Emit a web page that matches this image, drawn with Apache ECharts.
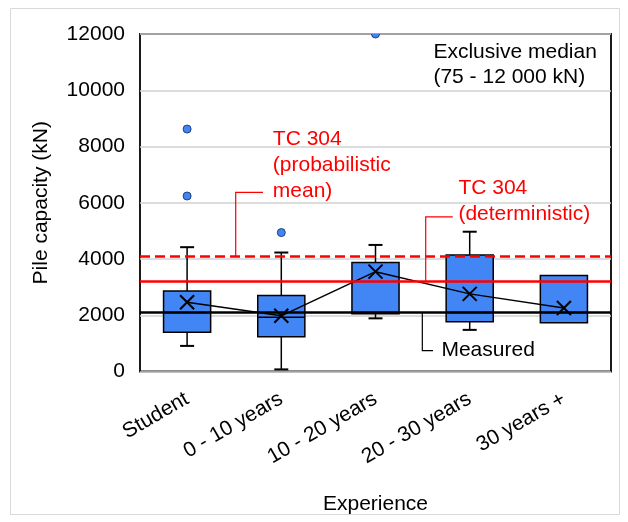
<!DOCTYPE html>
<html>
<head>
<meta charset="utf-8">
<script src="https://cdn.jsdelivr.net/npm/echarts@6/dist/echarts.min.js"></script>
<style>
  html, body { margin: 0; padding: 0; background: #fff; }
  #chart { width: 628px; height: 522px; }
</style>
</head>
<body>
<div id="chart"></div>
<script>
// Pile capacity estimates grouped by experience
const categories = ['Student', '0 - 10 years', '10 - 20 years', '20 - 30 years', '30 years +'];
const lowerWhisker  = [910, 75, 1890, 1480, 1735];
const lowerQuartile = [1400, 1240, 2050, 1770, 1735];
const medians       = [2100, 1930, 2100, 2100, 2100];
const upperQuartile = [2860, 2700, 3880, 4140, 3410];
const upperWhisker  = [4420, 4230, 4500, 4970, 3410];
const means         = [2460, 1980, 3550, 2760, 2260];
const outlierCategory = [0, 0, 1, 2];
const outlierValues   = [8620, 6240, 4940, 12000];
const yTicks = [0, 2000, 4000, 6000, 8000, 10000, 12000];

// Reference capacities (kN)
const tcProbabilisticMean = 4100;
const tcDeterministic = 3200;
const measuredMedian = 2100;

const FONT = '"Liberation Sans", Arial, sans-serif';
const BLUE = '#4285f4';

// Callout texts with leader lines, placed in axis units (category index, kN)
const callouts = [
  { text: ['TC 304', '(probabilistic', 'mean)'], color: '#ff0000', at: [0.91, 8270], lineHeight: 26,
    leader: [[0.516, tcProbabilisticMean], [0.516, 6370], [0.806, 6370]] },
  { text: ['TC 304', '(deterministic)'], color: '#ff0000', at: [2.88, 6510], lineHeight: 26,
    leader: [[2.533, tcDeterministic], [2.533, 5500], [2.82, 5500]] },
  { text: ['Measured'], color: '#000000', at: [2.70, 740], lineHeight: 24,
    leader: [[2.497, measuredMedian], [2.497, 740], [2.61, 740]] },
  { text: ['Exclusive median', '(75 - 12 000 kN)'], color: '#000000', at: [2.615, 11350], lineHeight: 24.5,
    leader: null }
];

const boxData = categories.map((c, i) => [i, lowerWhisker[i], lowerQuartile[i], medians[i], upperQuartile[i], upperWhisker[i]]);
const meanData = means.map((m, i) => [i, m]);
const outlierData = outlierValues.map((v, k) => [outlierCategory[k], v]);

function seg(x1, y1, x2, y2, w) {
  return { type: 'line', shape: { x1, y1, x2, y2 }, style: { stroke: '#000', lineWidth: w } };
}

function renderBox(params, api) {
  const i = api.value(0);
  const x = api.coord([i, 0])[0];
  const half = api.size([1, 0])[0] * 0.25;
  const cap = 7;
  const y = k => api.coord([i, api.value(k)])[1];
  const yLow = y(1), yQ1 = y(2), yMed = y(3), yQ3 = y(4), yUp = y(5);
  const children = [];
  if (yUp < yQ3 - 0.5) {
    children.push(seg(x, yUp, x, yQ3, 1.5), seg(x - cap, yUp, x + cap, yUp, 2));
  }
  if (yLow > yQ1 + 0.5) {
    children.push(seg(x, yQ1, x, yLow, 1.5), seg(x - cap, yLow, x + cap, yLow, 2));
  }
  children.push({
    type: 'rect',
    shape: { x: x - half, y: yQ3, width: 2 * half, height: yQ1 - yQ3 },
    style: { fill: BLUE, stroke: '#000', lineWidth: 1.5 }
  });
  children.push(seg(x - half, yMed, x + half, yMed, 1.5));
  return { type: 'group', children };
}

function renderCross(params, api) {
  const p = api.coord([api.value(0), api.value(1)]);
  const s = 7;
  return {
    type: 'group',
    children: [
      seg(p[0] - s, p[1] - s, p[0] + s, p[1] + s, 2),
      seg(p[0] - s, p[1] + s, p[0] + s, p[1] - s, 2)
    ]
  };
}

function renderOutlier(params, api) {
  const p = api.coord([api.value(0), api.value(1)]);
  return {
    type: 'circle',
    shape: { cx: p[0], cy: p[1], r: 4 },
    style: { fill: BLUE, stroke: '#1f3f80', lineWidth: 1 }
  };
}

function renderCallouts(params, api) {
  const band = api.size([1, 0])[0];
  const toPx = (c, v) => {
    const base = Math.floor(c);
    const pt = api.coord([base, v]);
    return [pt[0] + (c - base) * band, pt[1]];
  };
  const children = [];
  callouts.forEach(c => {
    if (c.leader) {
      children.push({
        type: 'polyline',
        shape: { points: c.leader.map(p => toPx(p[0], p[1])) },
        style: { stroke: c.color, lineWidth: 1.2, fill: null }
      });
    }
    const p = toPx(c.at[0], c.at[1]);
    children.push({
      type: 'text',
      x: p[0], y: p[1] - c.lineHeight / 2,
      style: {
        text: c.text.join('\n'),
        fill: c.color,
        fontSize: 21,
        fontFamily: FONT,
        lineHeight: c.lineHeight,
        align: 'left',
        verticalAlign: 'top'
      }
    });
  });
  return { type: 'group', children };
}

const chart = echarts.init(document.getElementById('chart'));
chart.setOption({
  animation: false,
  backgroundColor: '#fff',
  textStyle: { fontFamily: FONT },
  graphic: [{
    type: 'rect',
    shape: { x: 10.5, y: 8.5, width: 609, height: 506 },
    style: { fill: 'none', stroke: '#d9d9d9', lineWidth: 1 },
    silent: true, z: -10
  }],
  grid: {
    left: 140, right: 17, top: 34, bottom: 150.5,
    show: true, borderColor: '#1a1a1a', borderWidth: 2, backgroundColor: 'transparent'
  },
  xAxis: {
    type: 'category',
    data: categories,
    boundaryGap: true,
    axisLine: { show: false },
    axisTick: { show: false },
    axisLabel: { rotate: 30, interval: 0, fontSize: 21, color: '#000', margin: 26, fontFamily: FONT },
    name: 'Experience',
    nameLocation: 'middle',
    nameGap: 122,
    nameTextStyle: { fontSize: 21, color: '#000', fontFamily: FONT }
  },
  yAxis: {
    type: 'value',
    min: yTicks[0],
    max: yTicks[yTicks.length - 1],
    interval: yTicks[1] - yTicks[0],
    axisLine: { show: false },
    axisTick: { show: false },
    axisLabel: { fontSize: 21, color: '#000', margin: 15, fontFamily: FONT, formatter: v => String(v) },
    splitLine: { lineStyle: { color: '#d0d0d0', width: 1.5 } },
    name: 'Pile capacity (kN)',
    nameLocation: 'middle',
    nameGap: 88,
    nameTextStyle: { fontSize: 21, color: '#000', fontFamily: FONT }
  },
  series: [
    {
      type: 'custom',
      name: 'boxes',
      data: boxData,
      encode: { x: 0, y: [1, 2, 3, 4, 5] },
      renderItem: renderBox,
      z: 2
    },
    {
      type: 'line',
      name: 'reference',
      data: [],
      z: 3,
      markLine: {
        silent: true,
        symbol: ['none', 'none'],
        label: { show: false },
        data: [
          { yAxis: tcProbabilisticMean, lineStyle: { color: '#ff0000', width: 2.5, type: [10, 5] } },
          { yAxis: tcDeterministic, lineStyle: { color: '#ff0000', width: 2.5, type: 'solid' } },
          { yAxis: measuredMedian, lineStyle: { color: '#000000', width: 2.5, type: 'solid' } }
        ]
      }
    },
    {
      type: 'line',
      name: 'mean',
      data: means,
      symbol: 'none',
      lineStyle: { color: '#000', width: 1.5 },
      z: 4
    },
    {
      type: 'custom',
      name: 'mean marker',
      data: meanData,
      encode: { x: 0, y: 1 },
      renderItem: renderCross,
      z: 5
    },
    {
      type: 'custom',
      name: 'outliers',
      data: outlierData,
      encode: { x: 0, y: 1 },
      renderItem: renderOutlier,
      clip: true,
      z: 5
    },
    {
      type: 'custom',
      name: 'callouts',
      data: [[0, 0]],
      encode: { x: 0, y: 1 },
      renderItem: renderCallouts,
      silent: true,
      z: 6
    }
  ]
});
</script>
</body>
</html>
